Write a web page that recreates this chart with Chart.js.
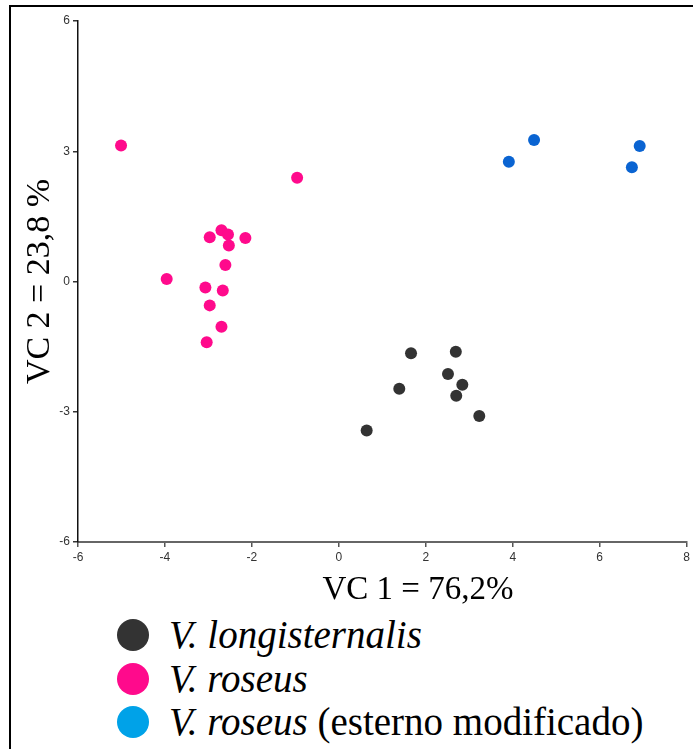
<!DOCTYPE html>
<html>
<head>
<meta charset="utf-8">
<script src="https://cdn.jsdelivr.net/npm/chart.js@4/dist/chart.umd.min.js"></script>
<style>
  html, body { margin: 0; padding: 0; background: #fff; width: 693px; height: 749px; overflow: hidden; }
  #wrap { position: relative; width: 693px; height: 749px; }
  #frame { position: absolute; left: 9px; top: 5px; width: 700px; height: 760px; border-top: 2px solid #000; border-left: 2px solid #000; }
  #c { position: absolute; left: 0; top: 0; }
  #xtitle { position: absolute; left: 218px; width: 400px; top: 566px; text-align: center;
            font-family: "Liberation Serif", "Times New Roman", serif; font-size: 33px; line-height: 44px; color: #000; }
  .leg { position: absolute; left: 117px; height: 43px; display: flex; align-items: center;
         font-family: "Liberation Serif", "Times New Roman", serif; font-size: 39px; color: #000; white-space: nowrap; }
  .leg .dot { width: 32px; height: 32px; border-radius: 50%; margin-right: 20px; flex: none; }
  .leg i { font-style: italic; }
</style>
</head>
<body>
<div id="wrap">
  <div id="frame"></div>
  <canvas id="c" width="693" height="600"></canvas>
  <div id="xtitle">VC 1 = 76,2%</div>
  <div id="legend"></div>
</div>
<script>
// ---- data ----
const seriesNames = ["V. longisternalis", "V. roseus", "V. roseus (esterno modificado)"];

const longisternalisX = [1.66, 2.69, 2.51, 2.84, 1.39, 2.70, 3.23, 0.64];
const longisternalisY = [-1.65, -1.62, -2.13, -2.38, -2.47, -2.63, -3.10, -3.43];

const roseusX = [-5.01, -0.96, -2.70, -2.55, -2.97, -2.15, -2.53, -2.61, -3.96, -3.07, -2.67, -2.97, -2.70, -3.04];
const roseusY = [3.13, 2.39, 1.18, 1.08, 1.02, 1.00, 0.83, 0.38, 0.06, -0.14, -0.21, -0.55, -1.04, -1.40];

const modificadoX = [4.49, 3.91, 6.92, 6.74];
const modificadoY = [3.26, 2.76, 3.12, 2.63];

const xTicks = [-6, -4, -2, 0, 2, 4, 6, 8];
const yTicks = [-6, -3, 0, 3, 6];

const xTitle = "VC 1 = 76,2%";
const yTitle = "VC 2 = 23,8 %";

// ---- build ----
const pts = (xs, ys) => xs.map((x, i) => ({ x: x, y: ys[i] }));
const plotColors = ["#333333", "#ff0a8c", "#0a64d2"];
const legendColors = ["#333333", "#ff0a8c", "#00a2e8"];

new Chart(document.getElementById("c"), {
  type: "scatter",
  data: {
    datasets: [
      { label: seriesNames[0], data: pts(longisternalisX, longisternalisY), backgroundColor: plotColors[0] },
      { label: seriesNames[1], data: pts(roseusX, roseusY), backgroundColor: plotColors[1] },
      { label: seriesNames[2], data: pts(modificadoX, modificadoY), backgroundColor: plotColors[2] }
    ]
  },
  options: {
    responsive: false,
    animation: false,
    devicePixelRatio: 1,
    elements: { point: { radius: 6, borderWidth: 0, hoverRadius: 6 } },
    layout: { padding: { top: 21, right: 5, left: 0, bottom: 0 } },
    plugins: { legend: { display: false }, tooltip: { enabled: false } },
    scales: {
      x: {
        type: "linear",
        min: xTicks[0], max: xTicks[xTicks.length - 1],
        afterBuildTicks: (s) => { s.ticks = xTicks.map(v => ({ value: v })); },
        afterFit: (s) => { s.height = 58; },
        grid: { drawOnChartArea: false, drawTicks: true, tickLength: 5, color: "#555", lineWidth: 1.5 },
        border: { display: true, color: "#666", width: 2 },
        ticks: { color: "#333", padding: 3, font: { family: "Arial, 'Liberation Sans', sans-serif", size: 12 } }
      },
      y: {
        type: "linear",
        min: yTicks[0], max: yTicks[yTicks.length - 1],
        afterBuildTicks: (s) => { s.ticks = yTicks.map(v => ({ value: v })); },
        afterFit: (s) => { s.width = 78; },
        grid: { drawOnChartArea: false, drawTicks: true, tickLength: 5, color: "#333", lineWidth: 1.5 },
        border: { display: true, color: "#111", width: 1.5 },
        ticks: { color: "#333", padding: 3, font: { family: "Arial, 'Liberation Sans', sans-serif", size: 12 } },
        title: {
          display: true, text: yTitle, color: "#000",
          font: { family: "'Liberation Serif', 'Times New Roman', serif", size: 34 },
          padding: { top: 20, bottom: 0 }
        }
      }
    }
  }
});

// ---- legend (HTML text) ----
const legend = document.getElementById("legend");
const rowTops = [613, 657, 700];
const legendHtml = [
  "<i>V. longisternalis</i>",
  "<i>V. roseus</i>",
  "<i>V. roseus</i>&nbsp;(esterno modificado)"
];
legendHtml.forEach((h, i) => {
  const d = document.createElement("div");
  d.className = "leg";
  d.style.top = rowTops[i] + "px";
  d.innerHTML = '<span class="dot" style="background:' + legendColors[i] + '"></span><span>' + h + '</span>';
  legend.appendChild(d);
});
</script>
</body>
</html>
